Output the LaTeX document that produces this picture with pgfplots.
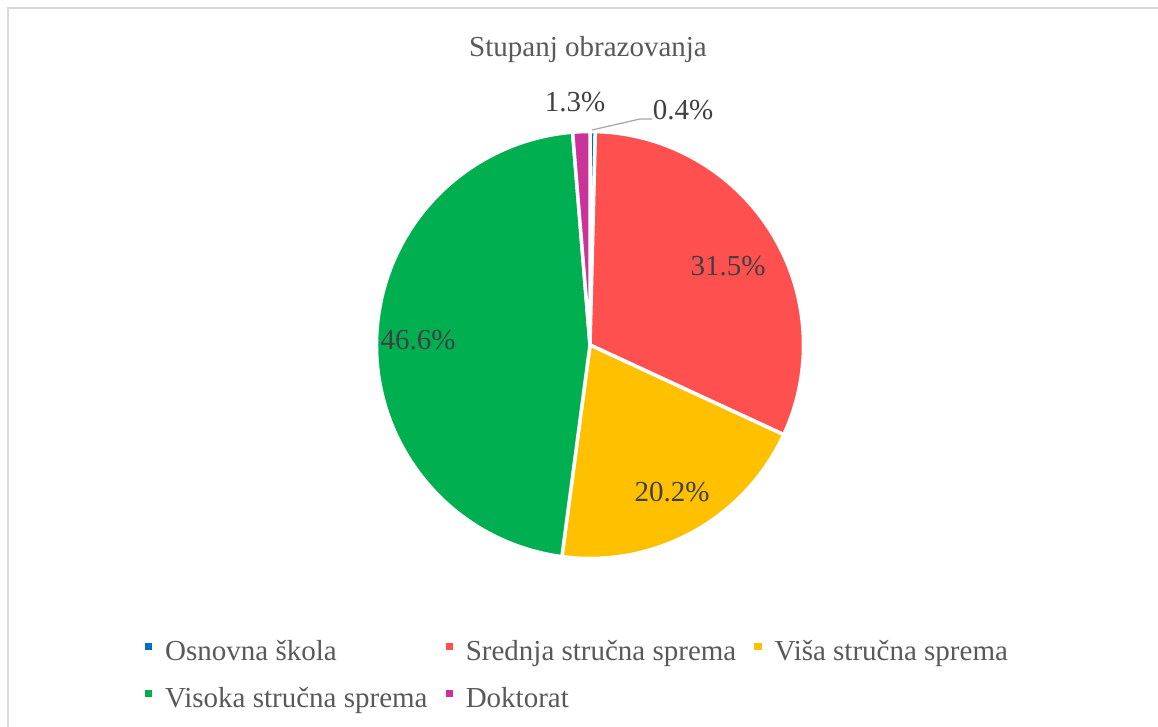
\documentclass[border=0pt]{standalone}
\usepackage{pgfplots}
\pgfplotsset{compat=1.18}
\usepackage{fontspec}
\setmainfont{Liberation Serif}
\definecolor{cOsn}{HTML}{0070C0}
\definecolor{cSre}{HTML}{FF5050}
\definecolor{cVis}{HTML}{FFC000}
\definecolor{cVso}{HTML}{00B050}
\definecolor{cDok}{HTML}{CC3399}
\definecolor{titlegray}{HTML}{595959}
\definecolor{labelgray}{HTML}{404040}
\definecolor{bordergray}{HTML}{D9D9D9}
\definecolor{leadergray}{HTML}{A6A6A6}
\newcommand{\chartfont}{\fontsize{14.5}{17}\selectfont}
\begin{document}
\begin{tikzpicture}
\begin{axis}[
  scale only axis,
  x=0.5pt, y=0.5pt,
  xmin=0, xmax=1158, ymin=0, ymax=727,
  hide axis,
  clip=false,
  legend columns=3,
  legend cell align=left,
  legend image code/.code={\path[draw=none,#1] (0pt,1pt) rectangle (3.6pt,4.6pt);},
  legend style={draw=none, fill=none, font=\chartfont, text=titlegray,
    at={(axis cs:145,16)}, anchor=south west,
    inner sep=0pt, outer sep=0pt,
    nodes={inner sep=0pt},
    row sep=12pt,
    /tikz/every odd column/.append style={column sep=6.5pt},
    /tikz/every even column/.append style={column sep=9pt}},
]
% frame (top and left edges visible)
\draw[bordergray, line width=1pt] (axis cs:7.5,0) -- (axis cs:7.5,718.5) -- (axis cs:1158,718.5);
% pie slices: percentages, clockwise from 12 o'clock
\xdef\startang{90}
\foreach \v/\c in {0.4/cOsn, 31.5/cSre, 20.2/cVis, 46.6/cVso, 1.3/cDok} {
  \pgfmathsetmacro\endang{\startang-3.6*\v}
  \edef\temp{\noexpand\filldraw[fill=\c, draw=white, line width=1.75pt, line join=round]
    (axis cs:590,382) -- ++(\startang:106.75pt)
    arc[start angle=\startang, end angle=\endang, radius=106.75pt] -- cycle;}
  \temp
  \xdef\startang{\endang}
}
% title
\node[anchor=base, font=\chartfont, text=titlegray] at (axis cs:588,670) {Stupanj obrazovanja};
% data labels
\node[anchor=base, font=\chartfont, text=labelgray] at (axis cs:728,451) {31.5\%};
\node[anchor=base, font=\chartfont, text=labelgray] at (axis cs:672,225) {20.2\%};
\node[anchor=base, font=\chartfont, text=labelgray] at (axis cs:418,377) {46.6\%};
\node[anchor=base, font=\chartfont, text=labelgray] at (axis cs:575,615) {1.3\%};
\node[anchor=base, font=\chartfont, text=labelgray] at (axis cs:683,607) {0.4\%};
\draw[leadergray, line width=0.6pt] (axis cs:592,597) -- (axis cs:640,608) -- (axis cs:652,608);
% legend
\addlegendimage{fill=cOsn}\addlegendentry{Osnovna škola}
\addlegendimage{fill=cSre}\addlegendentry{Srednja stručna sprema}
\addlegendimage{fill=cVis}\addlegendentry{Viša stručna sprema}
\addlegendimage{fill=cVso}\addlegendentry{Visoka stručna sprema}
\addlegendimage{fill=cDok}\addlegendentry{Doktorat}
\end{axis}
\pgfresetboundingbox
\useasboundingbox (0,0) rectangle (579pt,363.5pt);
\end{tikzpicture}
\end{document}
